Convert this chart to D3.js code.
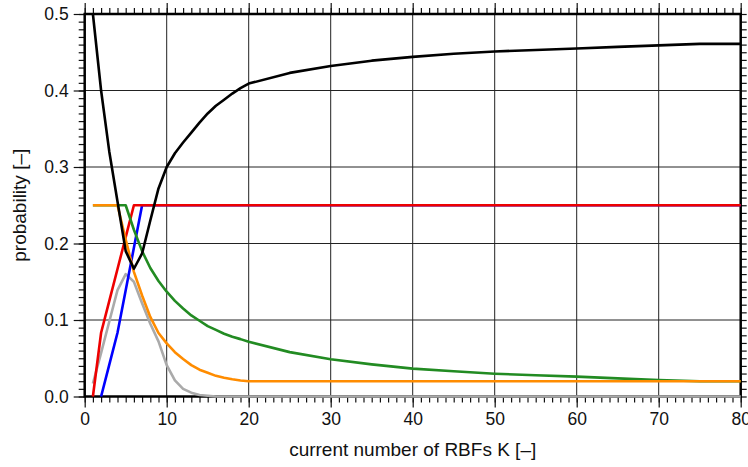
<!DOCTYPE html>
<html>
<head>
<meta charset="utf-8">
<script src="https://cdn.jsdelivr.net/npm/d3@7"></script>
<style>
  body { margin: 0; background: #fff; }
  text { font-family: "Liberation Sans", Arial, sans-serif; fill: #111; }
</style>
</head>
<body>
<div id="chart"></div>
<script>
const kValues = [1, 2, 3, 4, 5, 6, 7, 8, 9, 10, 11, 12, 13, 14, 15, 16, 17, 18, 19, 20,
                 25, 30, 35, 40, 45, 50, 55, 60, 65, 70, 75, 80];

const greyVals   = [0.017, 0.057, 0.098, 0.139, 0.160, 0.150, 0.122, 0.095, 0.072, 0.041, 0.021, 0.010, 0.005, 0.002, 0.001, 0, 0, 0, 0, 0,
                    0, 0, 0, 0, 0, 0, 0, 0, 0, 0, 0, 0];
const blueVals   = [null, 0, 0.0417, 0.0833, 0.1389, 0.1944, 0.25, 0.25, 0.25, 0.25, 0.25, 0.25, 0.25, 0.25, 0.25, 0.25, 0.25, 0.25, 0.25, 0.25,
                    0.25, 0.25, 0.25, 0.25, 0.25, 0.25, 0.25, 0.25, 0.25, 0.25, 0.25, 0.25];
const redVals    = [0, 0.0833, 0.125, 0.1667, 0.2083, 0.25, 0.25, 0.25, 0.25, 0.25, 0.25, 0.25, 0.25, 0.25, 0.25, 0.25, 0.25, 0.25, 0.25, 0.25,
                    0.25, 0.25, 0.25, 0.25, 0.25, 0.25, 0.25, 0.25, 0.25, 0.25, 0.25, 0.25];
const greenVals  = [0.25, 0.25, 0.25, 0.25, 0.25, 0.218, 0.19, 0.168, 0.151, 0.137, 0.125, 0.115, 0.106, 0.099, 0.092, 0.087, 0.082, 0.078, 0.075, 0.0715,
                    0.058, 0.0486, 0.042, 0.0364, 0.033, 0.0298, 0.0277, 0.026, 0.0237, 0.0216, 0.020, 0.020];
const orangeVals = [0.25, 0.25, 0.25, 0.25, 0.205, 0.163, 0.132, 0.104, 0.083, 0.0695, 0.058, 0.049, 0.041, 0.035, 0.031, 0.027, 0.0245, 0.0225, 0.021, 0.020,
                    0.020, 0.020, 0.020, 0.020, 0.020, 0.020, 0.020, 0.020, 0.020, 0.020, 0.020, 0.020];
const blackVals  = [0.5, 0.4, 0.32, 0.255, 0.19, 0.167, 0.187, 0.23, 0.272, 0.30, 0.318, 0.332, 0.345, 0.358, 0.37, 0.38, 0.388, 0.396, 0.403, 0.409,
                    0.423, 0.432, 0.439, 0.444, 0.448, 0.451, 0.453, 0.455, 0.457, 0.459, 0.461, 0.461];

const xTicks = [0, 10, 20, 30, 40, 50, 60, 70, 80];
const yTicks = [0.0, 0.1, 0.2, 0.3, 0.4, 0.5];

// Chart dimensions
const width = 748;
const height = 467;
const plotLeft = 84.7, plotRight = 740.7, plotTop = 14, plotBottom = 396.5;

const svg = d3.select("#chart").append("svg")
  .attr("width", width)
  .attr("height", height);

const x = d3.scaleLinear().domain([0, 80]).range([plotLeft, plotRight]);
const y = d3.scaleLinear().domain([0, 0.5]).range([plotBottom, plotTop]);

// Grid
svg.append("g").selectAll("line").data(xTicks.slice(1, -1)).join("line")
  .attr("x1", d => x(d)).attr("x2", d => x(d))
  .attr("y1", plotTop).attr("y2", plotBottom)
  .attr("stroke", "#222").attr("stroke-width", 1);
svg.append("g").selectAll("line").data(yTicks.slice(1, -1)).join("line")
  .attr("x1", plotLeft).attr("x2", plotRight)
  .attr("y1", d => y(d)).attr("y2", d => y(d))
  .attr("stroke", "#222").attr("stroke-width", 1);

// Axes: minor ticks then major ticks with labels
const minorX = d3.range(0, 81, 1);
const minorY = d3.range(0, 0.5001, 0.01);

function addAxis(axis, transform) {
  const g = svg.append("g").attr("transform", transform).call(axis);
  g.select(".domain").remove();
  g.selectAll(".tick line").attr("stroke", "#111").attr("stroke-width", 1.2);
  return g;
}

addAxis(d3.axisBottom(x).tickValues(minorX).tickSize(6).tickFormat(""), `translate(0,${plotBottom})`);
addAxis(d3.axisTop(x).tickValues(minorX).tickSize(6).tickFormat(""), `translate(0,${plotTop})`);
addAxis(d3.axisLeft(y).tickValues(minorY).tickSize(6).tickFormat(""), `translate(${plotLeft},0)`);
addAxis(d3.axisRight(y).tickValues(minorY).tickSize(6).tickFormat(""), `translate(${plotRight},0)`);

const xAxis = addAxis(d3.axisBottom(x).tickValues(xTicks).tickSize(11).tickPadding(5).tickFormat(d3.format("d")), `translate(0,${plotBottom})`);
addAxis(d3.axisTop(x).tickValues(xTicks).tickSize(11).tickFormat(""), `translate(0,${plotTop})`);
const yAxis = addAxis(d3.axisLeft(y).tickValues(yTicks).tickSize(11).tickPadding(5).tickFormat(d3.format(".1f")), `translate(${plotLeft},0)`);

xAxis.selectAll("text").style("font-size", "17.5px").attr("font-family", null).attr("fill", "#111");
yAxis.selectAll("text").style("font-size", "17.5px").attr("font-family", null).attr("fill", "#111");

// Frame
svg.append("rect")
  .attr("x", plotLeft).attr("y", plotTop)
  .attr("width", plotRight - plotLeft).attr("height", plotBottom - plotTop)
  .attr("fill", "none").attr("stroke", "#000").attr("stroke-width", 2.5);

// Series
const series = [
  { values: greyVals, color: "#aaaaaa" },
  { values: blueVals, color: "#0000ff" },
  { values: redVals, color: "#ee0000" },
  { values: greenVals, color: "#228b22" },
  { values: orangeVals, color: "#ff8c00" },
  { values: blackVals, color: "#000000" }
];

const line = d3.line()
  .defined(d => d[1] !== null)
  .x(d => x(d[0]))
  .y(d => y(d[1]));

svg.append("g").selectAll("path").data(series).join("path")
  .attr("d", s => line(kValues.map((k, i) => [k, s.values[i]])))
  .attr("fill", "none")
  .attr("stroke", s => s.color)
  .attr("stroke-width", 2.6)
  .attr("stroke-linejoin", "round");

// Axis titles
svg.append("text")
  .attr("x", x(40)).attr("y", 456)
  .attr("text-anchor", "middle")
  .style("font-size", "19px")
  .text("current number of RBFs K [–]");

svg.append("text")
  .attr("transform", `translate(26,${(plotTop + plotBottom) / 2}) rotate(-90)`)
  .attr("text-anchor", "middle")
  .style("font-size", "19px")
  .text("probability [–]");
</script>
</body>
</html>
